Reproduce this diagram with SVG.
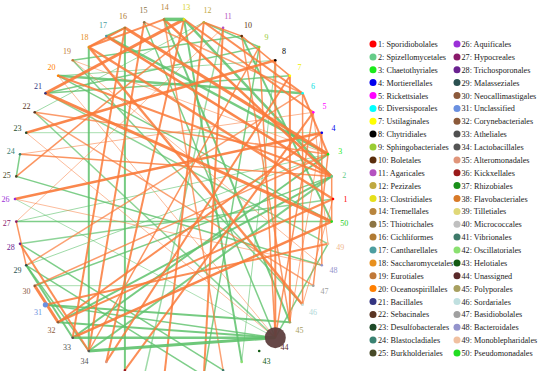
<svg xmlns="http://www.w3.org/2000/svg" width="540" height="371" viewBox="0 0 540 371">
<style>
.o{stroke:#fa7a3a;fill:none}
.g{stroke:#5ec26c;fill:none}
.lb{font-family:"Liberation Serif","Times New Roman",serif;font-size:8px;text-anchor:middle}
.lg{font-family:"Liberation Serif","Times New Roman",serif;font-size:8.2px;fill:#222}
</style>
<rect width="540" height="371" fill="#fff"/>
<g id="edges">
<line class="g" x1="184" y1="19.4" x2="331.7" y2="176.4" stroke-width="2.5" opacity=".85"/>
<line class="g" x1="184" y1="19.4" x2="241.7" y2="361.9" stroke-width="2" opacity=".85"/>
<line class="g" x1="241.7" y1="36.1" x2="331.7" y2="221.6" stroke-width="2" opacity=".85"/>
<line class="g" x1="275.3" y1="60.3" x2="241.7" y2="361.9" stroke-width="1" opacity=".6"/>
<line class="g" x1="289.9" y1="75.8" x2="45.4" y2="93.2" stroke-width="1.5" opacity=".8"/>
<line class="g" x1="302.6" y1="93.2" x2="58.1" y2="75.8" stroke-width="2.5" opacity=".85"/>
<line class="g" x1="106.3" y1="36.1" x2="328" y2="154.2" stroke-width="2.5" opacity=".85"/>
<line class="g" x1="88.8" y1="47" x2="88.8" y2="351" stroke-width="2" opacity=".85"/>
<line class="g" x1="124.9" y1="27.8" x2="124.9" y2="370.2" stroke-width="2" opacity=".85"/>
<line class="g" x1="26.2" y1="265.3" x2="203.8" y2="375.8" stroke-width="1.5" opacity=".8"/>
<line class="g" x1="20" y1="243.8" x2="223.1" y2="370.2" stroke-width="1.5" opacity=".8"/>
<line class="g" x1="26.2" y1="265.3" x2="72.7" y2="337.7" stroke-width="2" opacity=".85"/>
<line class="g" x1="16.3" y1="176.4" x2="321.8" y2="265.3" stroke-width="1.5" opacity=".8"/>
<line class="g" x1="20" y1="243.8" x2="333" y2="199" stroke-width="1.5" opacity=".7"/>
<line class="g" x1="331.7" y1="176.4" x2="34.7" y2="285.7" stroke-width="1.5" opacity=".8"/>
<line class="g" x1="124.9" y1="27.8" x2="106.3" y2="36.1" stroke-width="2" opacity=".85"/>
<line class="g" x1="45.4" y1="93.2" x2="259.2" y2="47" stroke-width="1.5" opacity=".8"/>
<line class="g" x1="58.1" y1="75.8" x2="331.7" y2="221.6" stroke-width="1.5" opacity=".8"/>
<line class="g" x1="45.4" y1="93.2" x2="328" y2="243.8" stroke-width="1.5" opacity=".7"/>
<line class="g" x1="34.7" y1="112.3" x2="275.3" y2="337.7" stroke-width="1.5" opacity=".7"/>
<line class="g" x1="20" y1="154.2" x2="16.3" y2="176.4" stroke-width="1.5" opacity=".8"/>
<line class="g" x1="203.8" y1="22.2" x2="259.2" y2="47" stroke-width="1.5" opacity=".8"/>
<line class="g" x1="164" y1="19.4" x2="289.9" y2="322.2" stroke-width="2" opacity=".85"/>
<line class="g" x1="144.2" y1="22.2" x2="275.3" y2="337.7" stroke-width="1.5" opacity=".8"/>
<line class="g" x1="45.4" y1="304.8" x2="289.9" y2="322.2" stroke-width="2" opacity=".85"/>
<line class="g" x1="58.1" y1="322.2" x2="331.7" y2="176.4" stroke-width="2" opacity=".85"/>
<line class="g" x1="72.7" y1="337.7" x2="328" y2="154.2" stroke-width="2" opacity=".85"/>
<line class="g" x1="275.3" y1="337.7" x2="328" y2="243.8" stroke-width="1.5" opacity=".8"/>
<line class="g" x1="15" y1="199" x2="275.3" y2="337.7" stroke-width="1" opacity=".5"/>
<line class="g" x1="16.3" y1="221.6" x2="331.7" y2="221.6" stroke-width="1.5" opacity=".8"/>
<line class="g" x1="223.1" y1="27.8" x2="144.2" y2="375.8" stroke-width="1.5" opacity=".6"/>
<line class="g" x1="259.2" y1="47" x2="203.8" y2="375.8" stroke-width="1.5" opacity=".8"/>
<line class="g" x1="203.8" y1="22.2" x2="34.7" y2="112.3" stroke-width="1" opacity=".6"/>
<line class="g" x1="241.7" y1="36.1" x2="72.7" y2="60.3" stroke-width="1.5" opacity=".8"/>
<line class="g" x1="275.3" y1="60.3" x2="58.1" y2="75.8" stroke-width="1" opacity=".6"/>
<line class="g" x1="328" y1="154.2" x2="26.2" y2="265.3" stroke-width="1" opacity=".6"/>
<line class="g" x1="58.1" y1="322.2" x2="275.3" y2="337.7" stroke-width="2" opacity=".85"/>
<line class="g" x1="45.4" y1="304.8" x2="275.3" y2="337.7" stroke-width="1.5" opacity=".8"/>
<line class="g" x1="26.2" y1="265.3" x2="88.8" y2="351" stroke-width="1.5" opacity=".8"/>
<line class="g" x1="26.2" y1="132.7" x2="321.8" y2="132.7" stroke-width="1" opacity=".55"/>
<line class="g" x1="72.7" y1="60.3" x2="302.6" y2="304.8" stroke-width="1.5" opacity=".75"/>
<line class="g" x1="88.8" y1="351" x2="331.7" y2="176.4" stroke-width="2" opacity=".8"/>
<line class="g" x1="16.3" y1="221.6" x2="328" y2="154.2" stroke-width="1" opacity=".6"/>
<line class="g" x1="34.7" y1="285.7" x2="313.3" y2="285.7" stroke-width="1" opacity=".55"/>
<line class="o" x1="45.4" y1="93.2" x2="184" y2="19.4" stroke-width="3" opacity=".9"/>
<line class="o" x1="124.9" y1="27.8" x2="328" y2="154.2" stroke-width="3" opacity=".9"/>
<line class="o" x1="106.3" y1="36.1" x2="331.7" y2="176.4" stroke-width="2.5" opacity=".9"/>
<line class="o" x1="45.4" y1="93.2" x2="331.7" y2="221.6" stroke-width="3" opacity=".9"/>
<line class="o" x1="15" y1="199" x2="321.8" y2="132.7" stroke-width="2.5" opacity=".9"/>
<line class="o" x1="72.7" y1="337.7" x2="331.7" y2="221.6" stroke-width="2.5" opacity=".9"/>
<line class="o" x1="26.2" y1="132.7" x2="275.3" y2="60.3" stroke-width="2.5" opacity=".9"/>
<line class="o" x1="34.7" y1="285.7" x2="58.1" y2="322.2" stroke-width="3" opacity=".9"/>
<line class="o" x1="20" y1="243.8" x2="88.8" y2="351" stroke-width="2" opacity=".85"/>
<line class="o" x1="203.8" y1="22.2" x2="302.6" y2="93.2" stroke-width="2" opacity=".85"/>
<line class="o" x1="203.8" y1="22.2" x2="241.7" y2="36.1" stroke-width="1.5" opacity=".85"/>
<line class="o" x1="241.7" y1="36.1" x2="289.9" y2="75.8" stroke-width="1.5" opacity=".85"/>
<line class="o" x1="289.9" y1="75.8" x2="289.9" y2="322.2" stroke-width="2" opacity=".85"/>
<line class="o" x1="302.6" y1="93.2" x2="302.6" y2="304.8" stroke-width="1.5" opacity=".8"/>
<line class="o" x1="302.6" y1="93.2" x2="328" y2="154.2" stroke-width="2" opacity=".85"/>
<line class="o" x1="331.7" y1="176.4" x2="331.7" y2="221.6" stroke-width="1.5" opacity=".8"/>
<line class="o" x1="164" y1="19.4" x2="88.8" y2="47" stroke-width="2" opacity=".85"/>
<line class="o" x1="124.9" y1="27.8" x2="88.8" y2="47" stroke-width="2" opacity=".9"/>
<line class="o" x1="72.7" y1="60.3" x2="328" y2="154.2" stroke-width="1" opacity=".5"/>
<line class="o" x1="275.3" y1="60.3" x2="275.3" y2="337.7" stroke-width="2" opacity=".85"/>
<line class="o" x1="259.2" y1="47" x2="275.3" y2="337.7" stroke-width="1.5" opacity=".8"/>
<line class="o" x1="313.3" y1="112.3" x2="275.3" y2="337.7" stroke-width="1.5" opacity=".8"/>
<line class="o" x1="321.8" y1="132.7" x2="289.9" y2="322.2" stroke-width="1" opacity=".6"/>
<line class="o" x1="184" y1="19.4" x2="106.3" y2="361.9" stroke-width="2" opacity=".85"/>
<line class="o" x1="144.2" y1="22.2" x2="88.8" y2="351" stroke-width="2" opacity=".85"/>
<line class="o" x1="124.9" y1="27.8" x2="72.7" y2="337.7" stroke-width="2" opacity=".85"/>
<line class="o" x1="88.8" y1="47" x2="302.6" y2="304.8" stroke-width="2.5" opacity=".85"/>
<line class="o" x1="58.1" y1="75.8" x2="275.3" y2="337.7" stroke-width="1" opacity=".5"/>
<line class="o" x1="34.7" y1="112.3" x2="313.3" y2="285.7" stroke-width="1.5" opacity=".7"/>
<line class="o" x1="16.3" y1="221.6" x2="26.2" y2="265.3" stroke-width="1.5" opacity=".8"/>
<line class="o" x1="45.4" y1="304.8" x2="328" y2="243.8" stroke-width="2" opacity=".85"/>
<line class="o" x1="58.1" y1="322.2" x2="333" y2="199" stroke-width="2" opacity=".85"/>
<line class="o" x1="20" y1="154.2" x2="331.7" y2="176.4" stroke-width="1.5" opacity=".8"/>
<line class="o" x1="124.9" y1="370.2" x2="313.3" y2="112.3" stroke-width="2" opacity=".85"/>
<line class="o" x1="106.3" y1="361.9" x2="289.9" y2="75.8" stroke-width="2" opacity=".85"/>
<line class="o" x1="88.8" y1="351" x2="259.2" y2="47" stroke-width="1.5" opacity=".8"/>
<line class="o" x1="164" y1="378.6" x2="203.8" y2="22.2" stroke-width="2" opacity=".85"/>
<line class="o" x1="203.8" y1="375.8" x2="223.1" y2="27.8" stroke-width="2" opacity=".85"/>
<line class="o" x1="223.1" y1="370.2" x2="164" y2="19.4" stroke-width="1.5" opacity=".7"/>
<line class="o" x1="164" y1="19.4" x2="331.7" y2="176.4" stroke-width="2.5" opacity=".9"/>
<line class="o" x1="184" y1="19.4" x2="313.3" y2="112.3" stroke-width="2" opacity=".85"/>
<line class="o" x1="144.2" y1="22.2" x2="302.6" y2="93.2" stroke-width="1.5" opacity=".7"/>
<line class="o" x1="223.1" y1="27.8" x2="16.3" y2="221.6" stroke-width="1" opacity=".5"/>
<line class="o" x1="16.3" y1="176.4" x2="203.8" y2="22.2" stroke-width="1.5" opacity=".8"/>
<line class="o" x1="26.2" y1="132.7" x2="275.3" y2="337.7" stroke-width="1" opacity=".5"/>
<line class="o" x1="72.7" y1="60.3" x2="321.8" y2="265.3" stroke-width="1" opacity=".5"/>
<line class="o" x1="26.2" y1="265.3" x2="302.6" y2="93.2" stroke-width="1.5" opacity=".7"/>
<line class="o" x1="328" y1="154.2" x2="313.3" y2="285.7" stroke-width="1.5" opacity=".8"/>
<line class="o" x1="321.8" y1="132.7" x2="321.8" y2="265.3" stroke-width="1.5" opacity=".8"/>
<line class="o" x1="313.3" y1="112.3" x2="328" y2="243.8" stroke-width="1" opacity=".6"/>
<line class="o" x1="333" y1="199" x2="302.6" y2="304.8" stroke-width="1" opacity=".6"/>
<line class="o" x1="58.1" y1="75.8" x2="331.7" y2="176.4" stroke-width="2" opacity=".85"/>
<line class="o" x1="88.8" y1="47" x2="333" y2="199" stroke-width="2.5" opacity=".85"/>
<line class="o" x1="34.7" y1="112.3" x2="328" y2="154.2" stroke-width="1.5" opacity=".75"/>
<line class="o" x1="20" y1="154.2" x2="313.3" y2="112.3" stroke-width="1" opacity=".55"/>
<line class="o" x1="34.7" y1="285.7" x2="328" y2="154.2" stroke-width="1.5" opacity=".75"/>
<line class="o" x1="58.1" y1="322.2" x2="321.8" y2="132.7" stroke-width="2" opacity=".85"/>
<line class="o" x1="15" y1="199" x2="321.8" y2="265.3" stroke-width="1" opacity=".5"/>
<line class="o" x1="241.7" y1="36.1" x2="289.9" y2="322.2" stroke-width="1.5" opacity=".75"/>
<line class="g" x1="184" y1="19.4" x2="164" y2="19.4" stroke-width="3.5" opacity=".9"/>
<line class="g" x1="88.8" y1="351" x2="275.3" y2="337.7" stroke-width="3" opacity=".9"/>
<line class="g" x1="72.7" y1="337.7" x2="275.3" y2="337.7" stroke-width="2.5" opacity=".85"/>
</g>
<g id="nodes">
<g id="n1"><circle cx="333" cy="199" r="1.3" fill="#ff0000"/><text class="lb" x="345.5" y="201.8" fill="#ff0000">1</text></g>
<g id="n2"><circle cx="331.7" cy="176.4" r="1.3" fill="#66cc88"/><text class="lb" x="344.2" y="177.7" fill="#66cc88">2</text></g>
<g id="n3"><circle cx="328" cy="154.2" r="1.3" fill="#1aea1a"/><text class="lb" x="340.2" y="154" fill="#1aea1a">3</text></g>
<g id="n4"><circle cx="321.8" cy="132.7" r="1.3" fill="#0000ee"/><text class="lb" x="333.6" y="131.1" fill="#0000ee">4</text></g>
<g id="n5"><circle cx="313.3" cy="112.3" r="1.3" fill="#ff00ff"/><text class="lb" x="324.5" y="109.3" fill="#ff00ff">5</text></g>
<g id="n6"><circle cx="302.6" cy="93.2" r="1.3" fill="#00ffff"/><text class="lb" x="313" y="88.9" fill="#00e0e0">6</text></g>
<g id="n7"><circle cx="289.9" cy="75.8" r="1.3" fill="#ffff00"/><text class="lb" x="299.4" y="70.4" fill="#eeee00">7</text></g>
<g id="n8"><circle cx="275.3" cy="60.3" r="1.3" fill="#000"/><text class="lb" x="283.9" y="53.9" fill="#000">8</text></g>
<g id="n9"><circle cx="259.2" cy="47" r="1.3" fill="#99cc33"/><text class="lb" x="266.6" y="39.7" fill="#99cc33">9</text></g>
<g id="n10"><circle cx="241.7" cy="36.1" r="1.3" fill="#5a2d0c"/><text class="lb" x="247.9" y="28.1" fill="#5a2d0c">10</text></g>
<g id="n11"><circle cx="223.1" cy="27.8" r="1.3" fill="#b452c0"/><text class="lb" x="228" y="19.2" fill="#b452c0">11</text></g>
<g id="n12"><circle cx="203.8" cy="22.2" r="1.3" fill="#bfa840"/><text class="lb" x="207.4" y="13.2" fill="#bfa840">12</text></g>
<g id="n13"><circle cx="184" cy="19.4" r="1.3" fill="#e6e01a"/><text class="lb" x="186.2" y="10.2" fill="#d8d21a">13</text></g>
<g id="n14"><circle cx="164" cy="19.4" r="1.3" fill="#b8843c"/><text class="lb" x="164.8" y="10.2" fill="#b8843c">14</text></g>
<g id="n15"><circle cx="144.2" cy="22.2" r="1.3" fill="#8c7443"/><text class="lb" x="143.6" y="13.2" fill="#8c7443">15</text></g>
<g id="n16"><circle cx="124.9" cy="27.8" r="1.3" fill="#b07a33"/><text class="lb" x="123" y="19.2" fill="#b07a33">16</text></g>
<g id="n17"><circle cx="106.3" cy="36.1" r="1.3" fill="#4c9ea0"/><text class="lb" x="103.1" y="28.1" fill="#4c9ea0">17</text></g>
<g id="n18"><circle cx="88.8" cy="47" r="1.3" fill="#e8901e"/><text class="lb" x="84.4" y="39.7" fill="#e8901e">18</text></g>
<g id="n19"><circle cx="72.7" cy="60.3" r="1.3" fill="#c07838"/><text class="lb" x="67.1" y="53.9" fill="#c07838">19</text></g>
<g id="n20"><circle cx="58.1" cy="75.8" r="1.3" fill="#ff7f00"/><text class="lb" x="51.6" y="70.4" fill="#ff7f00">20</text></g>
<g id="n21"><circle cx="45.4" cy="93.2" r="1.3" fill="#343480"/><text class="lb" x="38" y="88.9" fill="#343480">21</text></g>
<g id="n22"><circle cx="34.7" cy="112.3" r="1.3" fill="#5a3522"/><text class="lb" x="26.5" y="109.3" fill="#5a3522">22</text></g>
<g id="n23"><circle cx="26.2" cy="132.7" r="1.3" fill="#1e4a28"/><text class="lb" x="17.4" y="131.1" fill="#1e4a28">23</text></g>
<g id="n24"><circle cx="20" cy="154.2" r="1.3" fill="#3a8272"/><text class="lb" x="10.8" y="154" fill="#3a8272">24</text></g>
<g id="n25"><circle cx="16.3" cy="176.4" r="1.3" fill="#484a28"/><text class="lb" x="6.8" y="177.7" fill="#484a28">25</text></g>
<g id="n26"><circle cx="15" cy="199" r="1.3" fill="#9b30d8"/><text class="lb" x="5.5" y="201.8" fill="#9b30d8">26</text></g>
<g id="n27"><circle cx="16.3" cy="221.6" r="1.3" fill="#8a1a6a"/><text class="lb" x="6.8" y="225.9" fill="#8a1a6a">27</text></g>
<g id="n28"><circle cx="20" cy="243.8" r="1.3" fill="#6a2290"/><text class="lb" x="10.8" y="249.6" fill="#6a2290">28</text></g>
<g id="n29"><circle cx="26.2" cy="265.3" r="1.3" fill="#2a5050"/><text class="lb" x="17.4" y="272.5" fill="#2a5050">29</text></g>
<g id="n30"><circle cx="34.7" cy="285.7" r="1.3" fill="#8c5a3c"/><text class="lb" x="26.5" y="294.3" fill="#8c5a3c">30</text></g>
<g id="n31"><circle cx="45.4" cy="304.8" r="2.6" fill="#6a90e0"/><text class="lb" x="38" y="314.7" fill="#6a90e0">31</text></g>
<g id="n32"><circle cx="58.1" cy="322.2" r="1.3" fill="#8c5a3a"/><text class="lb" x="51.6" y="333.2" fill="#8c5a3a">32</text></g>
<g id="n33"><circle cx="72.7" cy="337.7" r="1.3" fill="#505050"/><text class="lb" x="67.1" y="349.7" fill="#505050">33</text></g>
<g id="n34"><circle cx="88.8" cy="351" r="1.3" fill="#555555"/><text class="lb" x="84.4" y="363.9" fill="#555555">34</text></g>
<g id="n35"><circle cx="106.3" cy="361.9" r="1.3" fill="#e0957a"/></g>
<g id="n36"><circle cx="124.9" cy="370.2" r="1.3" fill="#9a1a1a"/></g>
<g id="n41"><circle cx="223.1" cy="370.2" r="1.3" fill="#3e7a6a"/></g>
<g id="n42"><circle cx="241.7" cy="361.9" r="1.3" fill="#8ae070"/></g>
<g id="n43"><circle cx="259.2" cy="351" r="1.3" fill="#125a12"/><text class="lb" x="266.6" y="363.9" fill="#125a12">43</text></g>
<g id="n44"><circle cx="275.3" cy="337.7" r="10.5" fill="#5e3e3e" opacity=".95"/><text class="lb" x="284.5" y="350" fill="#5a2a2a">44</text></g>
<g id="n45"><circle cx="289.9" cy="322.2" r="1.3" fill="#a8a060"/><text class="lb" x="299.4" y="333.2" fill="#a8a060">45</text></g>
<g id="n46"><circle cx="302.6" cy="304.8" r="1.3" fill="#c0e0e0"/><text class="lb" x="313" y="314.7" fill="#b0d8d8">46</text></g>
<g id="n47"><circle cx="313.3" cy="285.7" r="1.3" fill="#a0a0a0"/><text class="lb" x="324.5" y="294.3" fill="#a0a0a0">47</text></g>
<g id="n48"><circle cx="321.8" cy="265.3" r="1.3" fill="#9494cc"/><text class="lb" x="333.6" y="272.5" fill="#9494cc">48</text></g>
<g id="n49"><circle cx="328" cy="243.8" r="1.3" fill="#f0c0a0"/><text class="lb" x="340.2" y="249.6" fill="#f0b890">49</text></g>
<g id="n50"><circle cx="331.7" cy="221.6" r="1.3" fill="#22dd22"/><text class="lb" x="344.2" y="225.9" fill="#22cc22">50</text></g>
</g>
<g id="legend">
<circle cx="373" cy="44" r="3.5" fill="#ff0000"/><text class="lg" x="378" y="47">1: Sporidiobolales</text>
<circle cx="373" cy="56.9" r="3.5" fill="#66cc88"/><text class="lg" x="378" y="59.9">2: Spizellomycetales</text>
<circle cx="373" cy="69.8" r="3.5" fill="#1aea1a"/><text class="lg" x="378" y="72.8">3: Chaetothyriales</text>
<circle cx="373" cy="82.6" r="3.5" fill="#0000ee"/><text class="lg" x="378" y="85.6">4: Mortierellales</text>
<circle cx="373" cy="95.5" r="3.5" fill="#ff00ff"/><text class="lg" x="378" y="98.5">5: Rickettsiales</text>
<circle cx="373" cy="108.4" r="3.5" fill="#00ffff"/><text class="lg" x="378" y="111.4">6: Diversisporales</text>
<circle cx="373" cy="121.3" r="3.5" fill="#ffff00"/><text class="lg" x="378" y="124.3">7: Ustilaginales</text>
<circle cx="373" cy="134.1" r="3.5" fill="#000000"/><text class="lg" x="378" y="137.1">8: Chytridiales</text>
<circle cx="373" cy="147" r="3.5" fill="#99cc33"/><text class="lg" x="378" y="150">9: Sphingobacteriales</text>
<circle cx="373" cy="159.9" r="3.5" fill="#5a2d0c"/><text class="lg" x="378" y="162.9">10: Boletales</text>
<circle cx="373" cy="172.8" r="3.5" fill="#b452c0"/><text class="lg" x="378" y="175.8">11: Agaricales</text>
<circle cx="373" cy="185.6" r="3.5" fill="#bfa840"/><text class="lg" x="378" y="188.6">12: Pezizales</text>
<circle cx="373" cy="198.5" r="3.5" fill="#e6e01a"/><text class="lg" x="378" y="201.5">13: Clostridiales</text>
<circle cx="373" cy="211.4" r="3.5" fill="#b8843c"/><text class="lg" x="378" y="214.4">14: Tremellales</text>
<circle cx="373" cy="224.3" r="3.5" fill="#8c7443"/><text class="lg" x="378" y="227.3">15: Thiotrichales</text>
<circle cx="373" cy="237.1" r="3.5" fill="#b07a33"/><text class="lg" x="378" y="240.1">16: Cichliformes</text>
<circle cx="373" cy="250" r="3.5" fill="#4c9ea0"/><text class="lg" x="378" y="253">17: Cantharellales</text>
<circle cx="373" cy="262.9" r="3.5" fill="#e8901e"/><text class="lg" x="378" y="265.9">18: Saccharomycetales</text>
<circle cx="373" cy="275.8" r="3.5" fill="#c07838"/><text class="lg" x="378" y="278.8">19: Eurotiales</text>
<circle cx="373" cy="288.6" r="3.5" fill="#ff7f00"/><text class="lg" x="378" y="291.6">20: Oceanospirillales</text>
<circle cx="373" cy="301.5" r="3.5" fill="#343480"/><text class="lg" x="378" y="304.5">21: Bacillales</text>
<circle cx="373" cy="314.4" r="3.5" fill="#5a3522"/><text class="lg" x="378" y="317.4">22: Sebacinales</text>
<circle cx="373" cy="327.3" r="3.5" fill="#1e4a28"/><text class="lg" x="378" y="330.3">23: Desulfobacterales</text>
<circle cx="373" cy="340.1" r="3.5" fill="#3a8272"/><text class="lg" x="378" y="343.1">24: Blastocladiales</text>
<circle cx="373" cy="353" r="3.5" fill="#484a28"/><text class="lg" x="378" y="356">25: Burkholderiales</text>
<circle cx="457" cy="44" r="3.5" fill="#9b30d8"/><text class="lg" x="461.5" y="47">26: Aquificales</text>
<circle cx="457" cy="56.9" r="3.5" fill="#8a1a6a"/><text class="lg" x="461.5" y="59.9">27: Hypocreales</text>
<circle cx="457" cy="69.8" r="3.5" fill="#6a2290"/><text class="lg" x="461.5" y="72.8">28: Trichosporonales</text>
<circle cx="457" cy="82.6" r="3.5" fill="#2a5050"/><text class="lg" x="461.5" y="85.6">29: Malasseziales</text>
<circle cx="457" cy="95.5" r="3.5" fill="#8c5a3c"/><text class="lg" x="461.5" y="98.5">30: Neocallimastigales</text>
<circle cx="457" cy="108.4" r="3.5" fill="#6a90e0"/><text class="lg" x="461.5" y="111.4">31: Unclassified</text>
<circle cx="457" cy="121.3" r="3.5" fill="#8c5a3a"/><text class="lg" x="461.5" y="124.3">32: Corynebacteriales</text>
<circle cx="457" cy="134.1" r="3.5" fill="#505050"/><text class="lg" x="461.5" y="137.1">33: Atheliales</text>
<circle cx="457" cy="147" r="3.5" fill="#555555"/><text class="lg" x="461.5" y="150">34: Lactobacillales</text>
<circle cx="457" cy="159.9" r="3.5" fill="#e0957a"/><text class="lg" x="461.5" y="162.9">35: Alteromonadales</text>
<circle cx="457" cy="172.8" r="3.5" fill="#9a1a1a"/><text class="lg" x="461.5" y="175.8">36: Kickxellales</text>
<circle cx="457" cy="185.6" r="3.5" fill="#1a901a"/><text class="lg" x="461.5" y="188.6">37: Rhizobiales</text>
<circle cx="457" cy="198.5" r="3.5" fill="#d87a28"/><text class="lg" x="461.5" y="201.5">38: Flavobacteriales</text>
<circle cx="457" cy="211.4" r="3.5" fill="#e0d878"/><text class="lg" x="461.5" y="214.4">39: Tilletiales</text>
<circle cx="457" cy="224.3" r="3.5" fill="#c0c0c0"/><text class="lg" x="461.5" y="227.3">40: Micrococcales</text>
<circle cx="457" cy="237.1" r="3.5" fill="#3e7a6a"/><text class="lg" x="461.5" y="240.1">41: Vibrionales</text>
<circle cx="457" cy="250" r="3.5" fill="#8ae070"/><text class="lg" x="461.5" y="253">42: Oscillatoriales</text>
<circle cx="457" cy="262.9" r="3.5" fill="#125a12"/><text class="lg" x="461.5" y="265.9">43: Helotiales</text>
<circle cx="457" cy="275.8" r="3.5" fill="#5a2a2a"/><text class="lg" x="461.5" y="278.8">44: Unassigned</text>
<circle cx="457" cy="288.6" r="3.5" fill="#a8a060"/><text class="lg" x="461.5" y="291.6">45: Polyporales</text>
<circle cx="457" cy="301.5" r="3.5" fill="#c0e0e0"/><text class="lg" x="461.5" y="304.5">46: Sordariales</text>
<circle cx="457" cy="314.4" r="3.5" fill="#a0a0a0"/><text class="lg" x="461.5" y="317.4">47: Basidiobolales</text>
<circle cx="457" cy="327.3" r="3.5" fill="#9494cc"/><text class="lg" x="461.5" y="330.3">48: Bacteroidales</text>
<circle cx="457" cy="340.1" r="3.5" fill="#f0c0a0"/><text class="lg" x="461.5" y="343.1">49: Monoblepharidales</text>
<circle cx="457" cy="353" r="3.5" fill="#22dd22"/><text class="lg" x="461.5" y="356">50: Pseudomonadales</text>
</g>
</svg>
